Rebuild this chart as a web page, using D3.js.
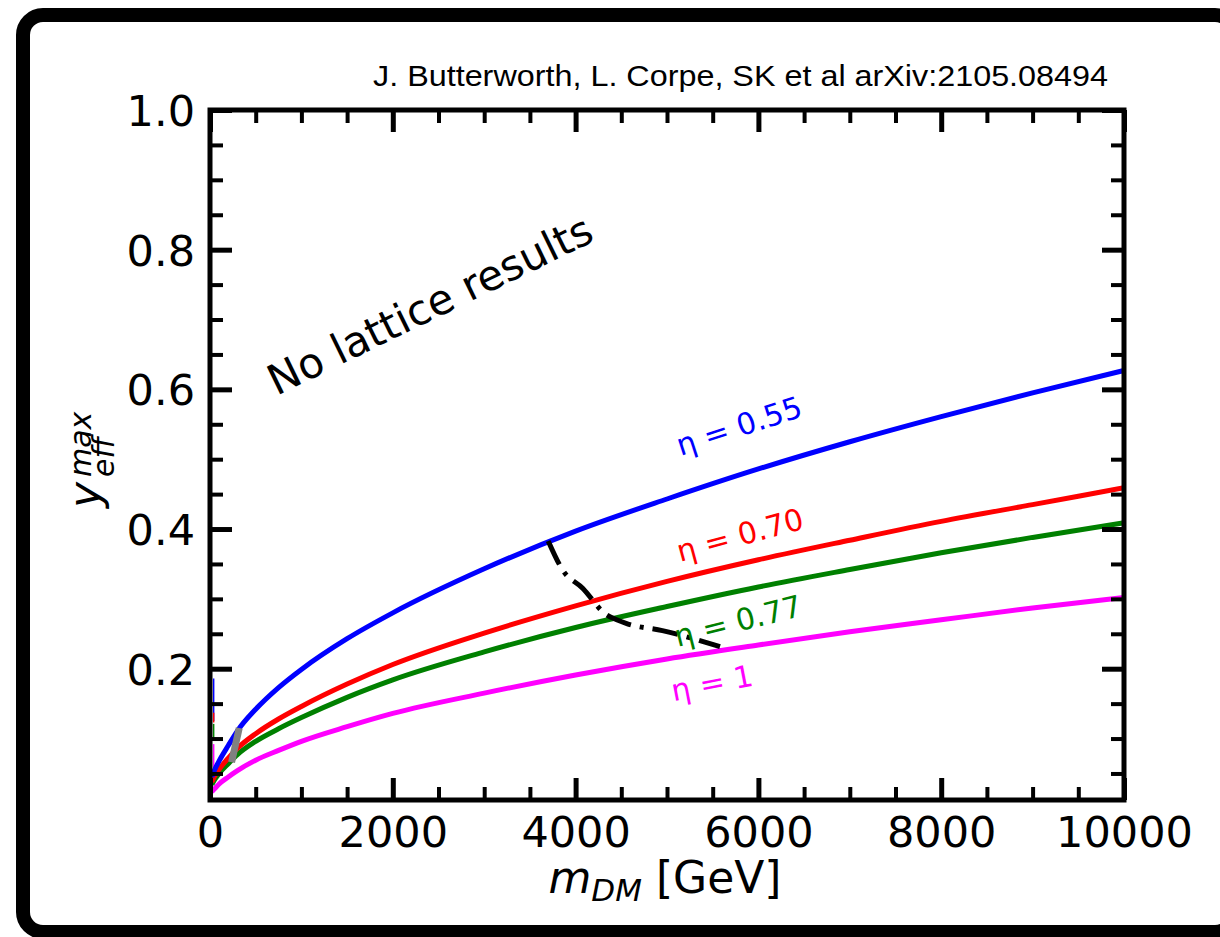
<!DOCTYPE html>
<html><head><meta charset="utf-8">
<script src="https://cdn.jsdelivr.net/npm/d3@7"></script>
<style>body{margin:0;background:#fff}</style>
</head><body>
<svg id="chart" width="1220" height="937"></svg>
<script>
// ---------- data ----------
const massGeV = [20,50,100,200,300,500,750,1000,1500,2000,3000,4000,5000,6000,7000,8000,9000,10000];
const yEta055 = [0.045,0.055,0.068,0.090,0.111,0.142,0.173,0.199,0.243,0.280,0.343,0.397,0.443,0.486,0.525,0.561,0.595,0.627];
const yEta070 = [0.038,0.046,0.056,0.072,0.086,0.107,0.128,0.146,0.178,0.206,0.251,0.290,0.325,0.356,0.384,0.411,0.435,0.459];
const yEta077 = [0.034,0.041,0.050,0.064,0.077,0.096,0.114,0.130,0.159,0.184,0.224,0.259,0.289,0.317,0.342,0.366,0.388,0.409];
const yEta100 = [0.024,0.028,0.035,0.045,0.054,0.069,0.083,0.096,0.117,0.136,0.165,0.191,0.214,0.234,0.253,0.270,0.287,0.302];
const seriesLabels = ["η = 0.55","η = 0.70","η = 0.77","η = 1"];
const seriesColors = ["#0000ff","#ff0000","#008000","#ff00ff"];

const boundaryMass = [3700,3860,4080,4320,4450,4560,4950,5580];
const boundaryY    = [0.383,0.341,0.315,0.279,0.270,0.2645,0.2545,0.2315];

const grayMass = [320,236];
const grayY    = [0.115,0.066];

const stubMass = 40;
const stubYTop    = [0.186,0.137,0.121,0.092];
const stubYBottom = [0.125,0.123,0.097,0.058];

const xMajorTicks = [0,2000,4000,6000,8000,10000];
const xMinorTicks = [500,1000,1500,2500,3000,3500,4500,5000,5500,6500,7000,7500,8500,9000,9500];
const yMajorTicks = [0.2,0.4,0.6,0.8,1.0];
const yMinorTicks = [0.05,0.1,0.15,0.25,0.3,0.35,0.45,0.5,0.55,0.65,0.7,0.75,0.85,0.9,0.95];
const xDomain = [0,10000];
const yDomain = [0.012,1.0];

const citation = "J. Butterworth, L. Corpe, SK et al arXiv:2105.08494";
const noLatticeText = "No lattice results";

// ---------- layout ----------
const W = 1220, H = 937;
const P = {left:210, right:1124, top:110, bottom:800};
const FONT = "'DejaVu Sans', sans-serif";

const svg = d3.select("#chart");
svg.append("rect").attr("width",W).attr("height",H).attr("fill","#fff");

// hand-drawn-like outer frame (right side runs just past the image edge)
svg.append("rect").attr("x",23).attr("y",15).attr("width",1212).attr("height",917)
  .attr("rx",20).attr("fill","none").attr("stroke","#000").attr("stroke-width",14);

const x = d3.scaleLinear().domain(xDomain).range([P.left,P.right]);
const y = d3.scaleLinear().domain(yDomain).range([P.bottom,P.top]);

svg.append("defs").append("clipPath").attr("id","clip")
  .append("rect").attr("x",P.left).attr("y",P.top).attr("width",P.right-P.left).attr("height",P.bottom-P.top);

const plot = svg.append("g").attr("clip-path","url(#clip)");
const line = d3.line().x(d=>x(d[0])).y(d=>y(d[1])).curve(d3.curveMonotoneX);

const series = [yEta055,yEta070,yEta077,yEta100];

// low-mass stubs
series.forEach((s,i)=>{
  plot.append("line").attr("x1",x(stubMass)).attr("x2",x(stubMass))
    .attr("y1",y(stubYTop[i])).attr("y2",y(stubYBottom[i]))
    .attr("stroke",seriesColors[i]).attr("stroke-width",1.5);
});

series.slice().reverse().forEach((s,ri)=>{
  const i = series.length-1-ri;
  plot.append("path").datum(massGeV.map((m,k)=>[m,s[k]]))
    .attr("d",line).attr("fill","none").attr("stroke",seriesColors[i])
    .attr("stroke-width",5).attr("stroke-linecap","butt");
});

// gray segment
plot.append("path").datum(grayMass.map((m,k)=>[m,grayY[k]]))
  .attr("d",d3.line().x(d=>x(d[0])).y(d=>y(d[1])))
  .attr("fill","none").attr("stroke","#808080").attr("stroke-width",7);

// dash-dot boundary
plot.append("path").datum(boundaryMass.map((m,k)=>[m,boundaryY[k]]))
  .attr("d",d3.line().x(d=>x(d[0])).y(d=>y(d[1])).curve(d3.curveMonotoneX))
  .attr("fill","none").attr("stroke","#000").attr("stroke-width",5)
  .attr("stroke-dasharray","26,9,4,9");

// ---------- axes ----------
function styleAxis(g, w){
  g.select(".domain").remove();
  g.selectAll("line").attr("stroke","#000").attr("stroke-width",w);
  g.selectAll("text").attr("font-family",FONT).attr("font-size",43).attr("fill","#000");
}
const gxb = svg.append("g").attr("transform",`translate(0,${P.bottom})`)
  .call(d3.axisBottom(x).tickValues(xMajorTicks).tickSize(-22).tickFormat(d3.format("d")));
styleAxis(gxb,5); gxb.selectAll("text").attr("y",47).attr("dy",0);
const gxbm = svg.append("g").attr("transform",`translate(0,${P.bottom})`)
  .call(d3.axisBottom(x).tickValues(xMinorTicks).tickSize(-13).tickFormat(""));
styleAxis(gxbm,4);
const gxt = svg.append("g").attr("transform",`translate(0,${P.top})`)
  .call(d3.axisTop(x).tickValues(xMajorTicks).tickSize(-22).tickFormat(""));
styleAxis(gxt,5);
const gxtm = svg.append("g").attr("transform",`translate(0,${P.top})`)
  .call(d3.axisTop(x).tickValues(xMinorTicks).tickSize(-13).tickFormat(""));
styleAxis(gxtm,4);

const gyl = svg.append("g").attr("transform",`translate(${P.left},0)`)
  .call(d3.axisLeft(y).tickValues(yMajorTicks).tickSize(-22).tickFormat(d3.format(".1f")));
styleAxis(gyl,5); gyl.selectAll("text").attr("x",-15).attr("dy","0.36em");
const gylm = svg.append("g").attr("transform",`translate(${P.left},0)`)
  .call(d3.axisLeft(y).tickValues(yMinorTicks).tickSize(-13).tickFormat(""));
styleAxis(gylm,4);
const gyr = svg.append("g").attr("transform",`translate(${P.right},0)`)
  .call(d3.axisRight(y).tickValues(yMajorTicks).tickSize(-22).tickFormat(""));
styleAxis(gyr,5);
const gyrm = svg.append("g").attr("transform",`translate(${P.right},0)`)
  .call(d3.axisRight(y).tickValues(yMinorTicks).tickSize(-13).tickFormat(""));
styleAxis(gyrm,4);

svg.append("rect").attr("x",P.left).attr("y",P.top).attr("width",P.right-P.left).attr("height",P.bottom-P.top)
  .attr("fill","none").attr("stroke","#000").attr("stroke-width",5);

// ---------- axis labels ----------
const xl = svg.append("text").attr("x",665).attr("y",893).attr("text-anchor","middle")
  .attr("font-family",FONT).attr("font-size",44).attr("fill","#000");
xl.append("tspan").attr("font-style","italic").text("m");
xl.append("tspan").attr("font-style","italic").attr("font-size",31).attr("dy",8).text("DM");
xl.append("tspan").attr("dy",-8).text(" [GeV]");

const yl = svg.append("g").attr("transform","translate(100,508) rotate(-90)")
  .attr("font-family",FONT).attr("fill","#000");
yl.append("text").attr("x",0).attr("y",0).attr("font-size",44).attr("font-style","italic").text("y");
yl.append("text").attr("x",31).attr("y",-9).attr("font-size",30).attr("font-style","italic").text("max");
yl.append("text").attr("x",31).attr("y",14).attr("font-size",30).attr("font-style","italic").text("eff");

// ---------- annotations ----------
svg.append("text").attr("x",373).attr("y",86).attr("font-family","'Liberation Sans', Arial, sans-serif")
  .attr("font-size",29).attr("textLength",735).attr("lengthAdjust","spacingAndGlyphs").attr("fill","#000").text(citation);

svg.append("text").attr("transform","translate(430,305) rotate(-26)").attr("text-anchor","middle")
  .attr("dominant-baseline","central").attr("font-family",FONT).attr("font-size",42).attr("fill","#000")
  .text(noLatticeText);

const labelPos = [[739,426,-18],[740,535,-15],[738,621,-14],[712,683,-11]];
seriesLabels.forEach((t,i)=>{
  const p = labelPos[i];
  svg.append("text").attr("transform",`translate(${p[0]},${p[1]}) rotate(${p[2]})`)
    .attr("text-anchor","middle").attr("dominant-baseline","central")
    .attr("font-family",FONT).attr("font-size",30).attr("fill",seriesColors[i]).text(t);
});
</script>
</body></html>
